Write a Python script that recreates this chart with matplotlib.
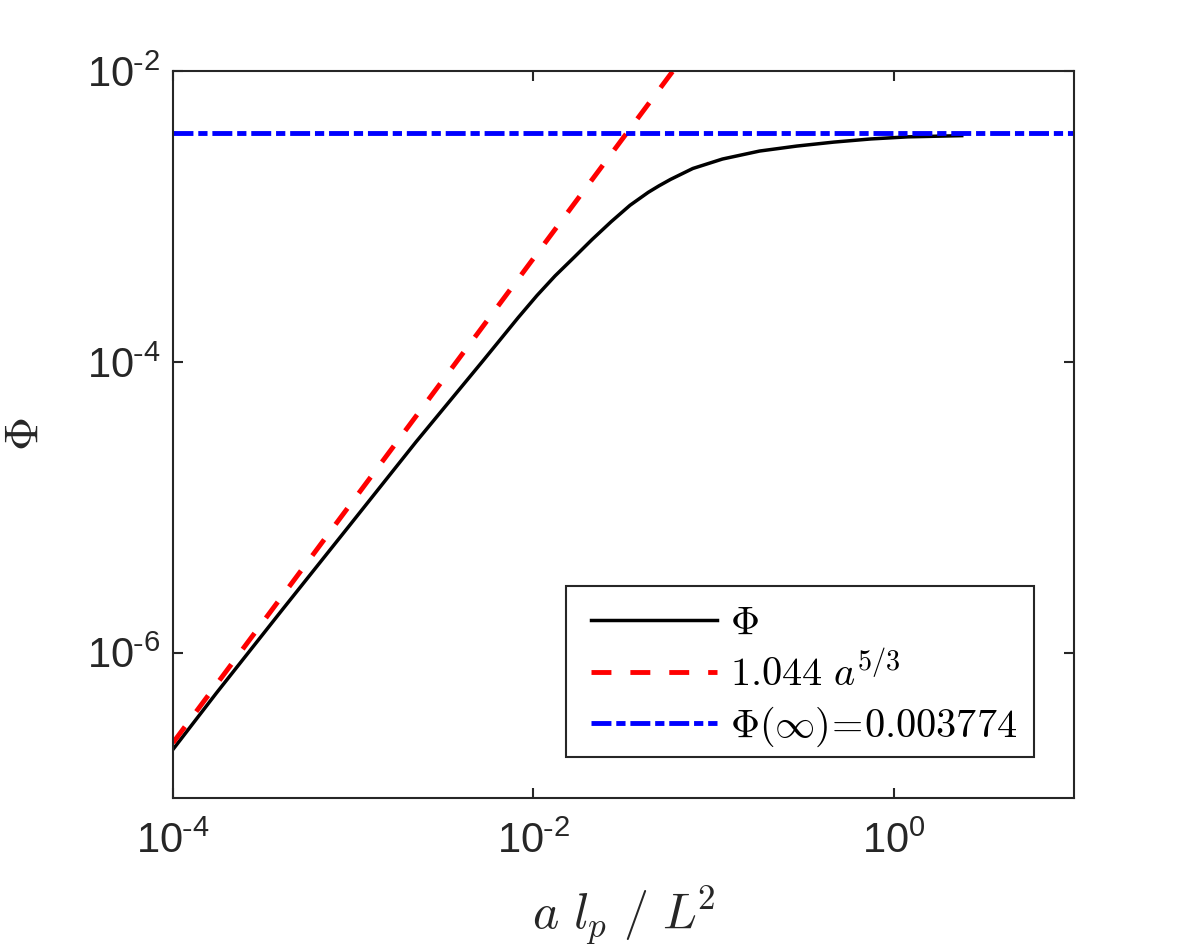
import numpy as np
import matplotlib
matplotlib.use('Agg')
import matplotlib.pyplot as plt
from matplotlib.patches import Rectangle
from matplotlib.ticker import FixedLocator, FuncFormatter, NullLocator

plt.rcParams['font.family'] = ['Liberation Sans', 'DejaVu Sans']
plt.rcParams['mathtext.fontset'] = 'cm'

# Phi(a)
a_vals = [1.0e-4, 1.74e-4, 4.06e-4, 9.51e-4, 2.23e-3, 5.217e-3, 6.52e-3, 8.23e-3,
          1.047e-2, 1.319e-2, 1.683e-2, 2.115e-2, 2.703e-2, 3.436e-2, 4.34e-2,
          4.975e-2, 5.77e-2, 7.665e-2, 0.112, 0.180, 0.289, 0.464, 0.746, 1.198, 2.382]
phi_vals = [2.16e-7, 5.27e-7, 1.99e-6, 7.47e-6, 2.82e-5, 1.011e-4, 1.419e-4, 2.023e-4,
            2.874e-4, 3.92e-4, 5.265e-4, 6.97e-4, 9.26e-4, 1.20e-3, 1.474e-3,
            1.633e-3, 1.809e-3, 2.15e-3, 2.498e-3, 2.835e-3, 3.067e-3, 3.266e-3,
            3.434e-3, 3.55e-3, 3.618e-3]

# small-a power law (ends of the dashed line)
a_fit = [1.0e-4, 0.0592]
phi_fit = [2.4e-7, 1.0e-2]

# large-a limit
a_inf = [1.0e-4, 1.0e1]
phi_inf = [0.003774, 0.003774]

xticks = [1e-4, 1e-2, 1e0]
yticks = [1e-6, 1e-4, 1e-2]

labels = [r'$\Phi$', r'$1.044\ a^{5/3}$', r'$\Phi(\infty)\!=\!0.003774$']

AX_C = '#262626'

fig = plt.figure(figsize=(11.84, 9.47), dpi=100)
ax = fig.add_axes([173/1184, 149/947, 901/1184, 726.5/947])

ax.plot(a_vals, phi_vals, color='black', lw=2.5, label=labels[0])
ax.plot(a_fit, phi_fit, color='#ff0000', lw=3.5, ls=(0, (4.1, 3.9)), label=labels[1])
ax.plot(a_inf, phi_inf, color='#0000ff', lw=3.5, ls=(0, (4.1, 1.0, 1.9, 1.0)), label=labels[2])

ax.set_xscale('log')
ax.set_yscale('log')
ax.set_xlim(1e-4, 1e1)
ax.set_ylim(1e-7, 1e-2)

fmt = FuncFormatter(lambda v, p: r'$\mathregular{10^{\text{-}%d}}$' % abs(int(round(np.log10(v))))
                    if v < 1 else r'$\mathregular{10^{0}}$')
ax.xaxis.set_major_locator(FixedLocator(xticks))
ax.yaxis.set_major_locator(FixedLocator(yticks))
ax.xaxis.set_minor_locator(NullLocator())
ax.yaxis.set_minor_locator(NullLocator())
ax.xaxis.set_major_formatter(fmt)
ax.yaxis.set_major_formatter(fmt)

ax.tick_params(which='major', direction='in', length=7, width=1.5, top=True, right=True,
               labelsize=30, color=AX_C, labelcolor=AX_C)
ax.tick_params(axis='x', pad=17)
ax.tick_params(axis='y', pad=9)
for s in ax.spines.values():
    s.set_color(AX_C)
    s.set_linewidth(1.5)

ax.set_xlabel(r'$a\ l_p\ /\ L^{\!2}$', fontsize=36, color=AX_C)
ax.xaxis.set_label_coords(0.5, -0.118)
ax.set_ylabel(r'$\Phi$', fontsize=34, color=AX_C, rotation=90)
ax.yaxis.set_label_coords(-0.139, 0.5)

# legend box (MATLAB style, square corners)
ax.add_patch(Rectangle((0.4362, 0.0564), 0.5194, 0.2354, transform=ax.transAxes,
                       facecolor='white', edgecolor=AX_C, lw=1.5, zorder=4.9))
leg = ax.legend(loc='upper left', bbox_to_anchor=(0.4639, 0.2674), borderaxespad=0,
                fontsize=29, handlelength=3.13, handletextpad=0.32, labelspacing=0.25,
                borderpad=0, frameon=False)
leg.set_zorder(5)

fig.savefig('out.png', dpi=100)
